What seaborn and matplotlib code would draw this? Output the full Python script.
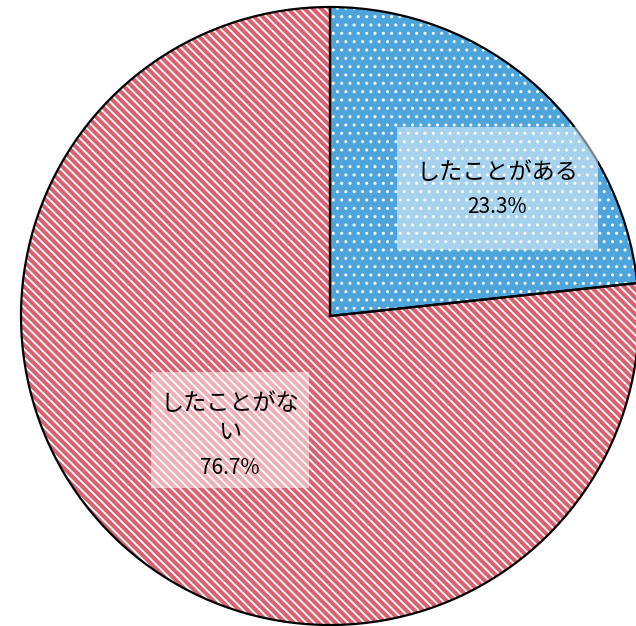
import matplotlib
matplotlib.use("Agg")
import matplotlib.pyplot as plt
import seaborn as sns
from matplotlib.patches import Rectangle

# Survey answers and their shares (%)
categories = ["したことがある", "したことがない"]
shares = [23.3, 76.7]
label_lines = ["したことがある", "したことがな\nい"]

fill_colors = ["#4EA5DB", "#DA6170"]
hatch_patterns = ["..", "\\\\\\\\"]
hatch_widths = [1.0, 1.3]

sns.set_theme(style="white")
plt.rcParams["font.family"] = ["Noto Sans CJK JP", "DejaVu Sans"]
plt.rcParams["hatch.linewidth"] = 1.3

fig = plt.figure(figsize=(6.36, 6.26), dpi=100)
ax = fig.add_axes([21 / 636, 1 / 626, 618 / 636, 618 / 626])
ax.set_aspect("equal")
ax.axis("off")

pie_kw = dict(startangle=90, counterclock=False, radius=1, frame=False)

# solid fills
ax.pie(shares, colors=fill_colors,
       wedgeprops=dict(linewidth=0, edgecolor="none"), **pie_kw)

# white hatch texture on top of the fills, one pass per slice so each
# pattern gets its own stroke width
for i, (h, hw) in enumerate(zip(hatch_patterns, hatch_widths)):
    with plt.rc_context({"hatch.linewidth": hw}):
        hatch_wedges, _ = ax.pie(shares, colors=["none"] * len(shares),
                                 wedgeprops=dict(linewidth=0, edgecolor="white"),
                                 **pie_kw)
    for j, w in enumerate(hatch_wedges):
        if j == i:
            w.set_hatch(h)
            w.set_edgecolor("white")
            w.set_linewidth(0)
            if hasattr(w, "set_hatch_linewidth"):
                w.set_hatch_linewidth(hw)
        else:
            w.remove()

# black outlines
ax.pie(shares, colors=["none"] * len(shares),
       wedgeprops=dict(linewidth=1.6, edgecolor="black", joinstyle="miter"), **pie_kw)

ax.set_xlim(-1, 1)
ax.set_ylim(-1, 1)

# label boxes: (x0, y0, width, height), name position, percent position
label_layout = [
    dict(box=(0.217, 0.214, 0.650, 0.398), name=(0.541, 0.463), pct=(0.541, 0.353)),
    dict(box=(-0.579, -0.557, 0.511, 0.376), name=(-0.324, -0.330), pct=(-0.324, -0.492)),
]

for text, value, lay in zip(label_lines, shares, label_layout):
    x0, y0, bw, bh = lay["box"]
    ax.add_patch(Rectangle((x0, y0), bw, bh, facecolor="white", alpha=0.5,
                           edgecolor="none", zorder=5))
    ax.text(*lay["name"], text, ha="center", va="center", fontsize=16.7,
            linespacing=1.3, color="black", zorder=6)
    ax.text(*lay["pct"], f"{value:.1f}%", ha="center", va="center", fontsize=15,
            color="black", zorder=6)

fig.savefig("out.png", dpi=100)
